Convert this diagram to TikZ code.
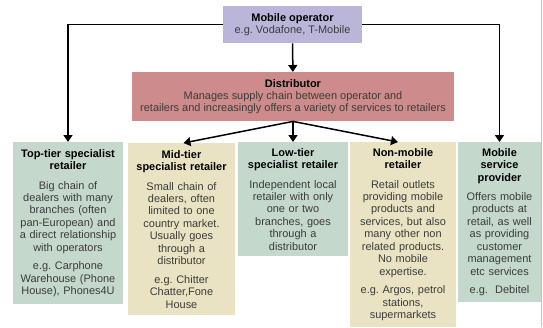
\documentclass[tikz,border=0pt]{standalone}
\usepackage{fontspec}
\setmainfont{Liberation Sans}
\usepackage{xcolor}
\usetikzlibrary{arrows.meta, positioning}

\definecolor{opfill}{HTML}{B9B6D9}
\definecolor{distfill}{HTML}{CD8B8B}
\definecolor{tiergreen}{HTML}{C5D8CC}
\definecolor{tierbeige}{HTML}{E9E3C3}
\definecolor{bodytext}{HTML}{3C3C3C}
\definecolor{edgeline}{HTML}{CBC78E}

\tikzset{
    box/.style={anchor=north, align=center, inner xsep=3bp, inner ysep=6bp,
        text=bodytext, font=\fontsize{11}{12.5}\selectfont},
    head/.style={box, inner sep=2bp},
    link/.style={draw=black, line width=1.5bp, -{Triangle[width=9bp, length=7bp]}}
}

\begin{document}
\begin{tikzpicture}[x=1bp, y=-1bp]
                        \useasboundingbox (0, 0) rectangle (543, 327);

                        % operator and distributor
                        \node[head, fill=opfill, minimum width=139bp, minimum height=37bp] (op) at (292.5, 6)
                            {\textbf{\color{black}Mobile operator}\\e.g.\ Vodafone, T-Mobile};
                        \node[head, fill=distfill, minimum width=322bp, minimum height=49bp] (dist) at (293, 72)
                            {\textbf{\color{black}Distributor}\\Manages supply chain between operator and\\retailers and increasingly offers a variety of services to retailers};

                        % retailer types
                        \node[box, fill=tiergreen, text width=104bp, inner ysep=7bp] (top) at (68, 142)
                            {\textbf{\color{black}Top-tier specialist}\\\textbf{\color{black}retailer}\\[7bp]
                            Big chain of\\dealers with many\\branches (often\\pan-European) and\\a direct relationship\\with operators\\[6bp]
                            e.g.\ Carphone\\Warehouse (Phone\\House), Phones4U};
                        \node[box, fill=tierbeige, text width=101bp, inner ysep=7bp] (mid) at (181.5, 143)
                            {\textbf{\color{black}Mid-tier}\\\textbf{\color{black}specialist retailer}\\[7bp]
                            Small chain of\\dealers, often\\limited to one\\country market.\\Usually goes\\through a\\distributor\\[6bp]
                            e.g.\ Chitter\\Chatter,Fone\\House};
                        \node[box, fill=tiergreen, text width=104bp] (low) at (293, 142)
                            {\textbf{\color{black}Low-tier}\\\textbf{\color{black}specialist retailer}\\[7bp]
                            Independent local\\retailer with only\\one or two\\branches, goes\\through a\\distributor};
                        \node[box, fill=tierbeige, text width=100bp] (non) at (403, 142)
                            {\textbf{\color{black}Non-mobile}\\\textbf{\color{black}retailer}\\[7bp]
                            Retail outlets\\providing mobile\\products and\\services, but also\\many other non\\related products.\\No mobile\\expertise.\\[6bp]
                            e.g.\ Argos, petrol\\stations,\\supermarkets};
                        \node[box, fill=tiergreen, text width=77bp] (msp) at (499.5, 142)
                            {\textbf{\color{black}Mobile}\\\textbf{\color{black}service}\\\textbf{\color{black}provider}\\[7bp]
                            Offers mobile\\products at\\retail, as well\\as providing\\customer\\management\\etc services\\[6bp]
                            e.g.\ \ Debitel};

                        \draw[link] (op) -- (dist);
                        \draw[link] (op.west) -| (top.north);
                        \draw[link] (op.east) -| (msp.north);
                        \draw[link] (dist.south) -- ([xshift=2bp]mid.north);
                        \draw[link] (dist.south) -- (low.north);
                        \draw[link] (dist.south) -- ([xshift=-5bp]non.north);

                        % thin rule on the right edge
                        \draw[edgeline, line width=1.5bp] (541.5, 0) -- (541.5, 327);
                    \end{tikzpicture}
\end{document}
